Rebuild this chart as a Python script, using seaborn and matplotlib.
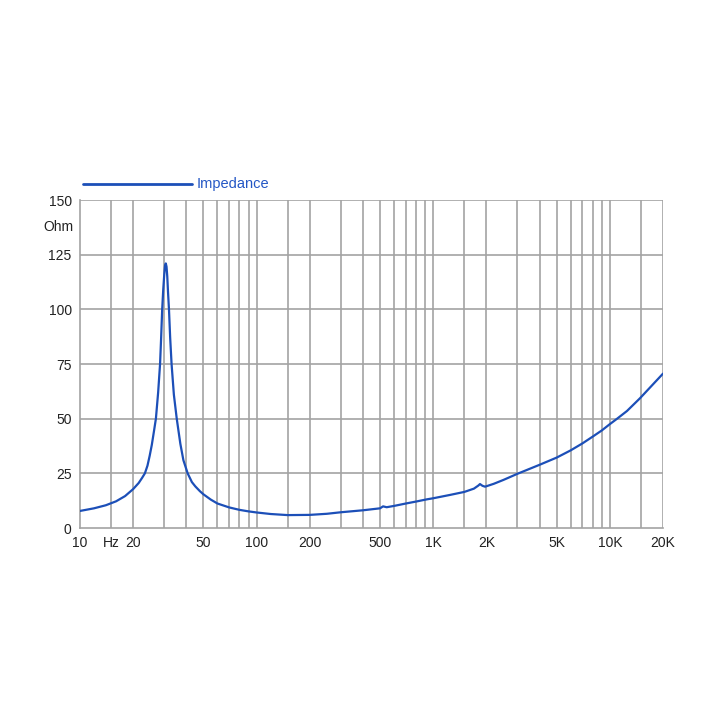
import seaborn as sns
import pandas as pd
import numpy as np
import matplotlib.pyplot as plt
from matplotlib.transforms import blended_transform_factory

# impedance curve
freq = [10, 12, 14, 16, 18, 20, 21.5, 22.5, 23.3, 24.1, 24.8, 25.5, 26.2, 26.9,
        27.7, 28.4, 28.8, 29.2, 29.6, 30.0, 30.3, 30.6, 30.9, 31.2, 31.5, 31.9,
        32.4, 33.0, 34.0, 35.3, 37.0, 38.5, 40.7, 43, 45, 47.8, 50, 55, 60, 70,
        80, 90, 100, 120, 150, 200, 250, 300, 400, 500, 520, 545, 600, 700, 800,
        920, 1000, 1240, 1500, 1700, 1800, 1840, 1900, 1965, 2000, 2200, 2500,
        3000, 3500, 4000, 5000, 6000, 7000, 8000, 9000, 10000, 11000, 12500,
        14800, 17000, 20000]
ohm = [7.8, 9.0, 10.4, 12.2, 14.6, 17.8, 20.6, 23.0, 25.0, 28.5, 33.0, 38.0,
       44.0, 50.0, 62.0, 75.0, 87.0, 100.0, 109.0, 116.0, 120.0, 121.0, 119.5,
       115.0, 108.0, 100.0, 87.0, 75.0, 61.0, 50.0, 38.5, 31.0, 25.0, 21.0, 19.0,
       16.8, 15.4, 13.0, 11.2, 9.4, 8.3, 7.6, 7.1, 6.4, 5.9, 6.0, 6.5, 7.2, 8.1,
       9.0, 9.9, 9.5, 10.1, 11.2, 12.1, 13.1, 13.6, 15.1, 16.5, 18.0, 19.4,
       20.1, 19.3, 18.9, 19.1, 20.2, 22.0, 24.8, 27.0, 28.9, 32.2, 35.5, 38.7,
       41.8, 44.6, 47.5, 50.0, 53.5, 59.3, 64.5, 70.6]

grid_x = [15, 20, 30, 40, 50, 60, 70, 80, 90, 100, 150, 200, 300, 400, 500, 600,
          700, 800, 900, 1000, 1500, 2000, 3000, 4000, 5000, 6000, 7000, 8000,
          9000, 10000, 15000, 20000]
xlabel_pos = [10, 15, 20, 50, 100, 200, 500, 1000, 2000, 5000, 10000, 20000]
xlabel_txt = ["10", "Hz", "20", "50", "100", "200", "500", "1K", "2K", "5K", "10K", "20K"]
yticks = [0, 25, 50, 75, 100, 125, 150]

df = pd.DataFrame({"Hz": freq, "Ohm": ohm})

sns.set_style("white")
plt.rcParams['font.family'] = ['Liberation Sans', 'DejaVu Sans']

fig = plt.figure(figsize=(7.24, 7.24), dpi=100)
ax = fig.add_axes([80 / 724, 1 - 528 / 724, 583 / 724, 328 / 724])

gray = "#a3a3a3"
for g in grid_x:
    ax.axvline(g, color=gray, lw=1.2, zorder=0)
for t in yticks[1:]:
    ax.axhline(t, color=gray, lw=1.2, zorder=0)

sns.lineplot(data=df, x="Hz", y="Ohm", ax=ax, color="#1c4fb8", lw=1.6, zorder=3)

ax.set_xscale("log")
ax.set_xlim(10, 20000)
ax.set_ylim(0, 150)
ax.set_xticks(xlabel_pos)
ax.set_xticklabels(xlabel_txt)
ax.set_xticks(grid_x, minor=True)
ax.xaxis.set_minor_formatter(plt.NullFormatter())
ax.set_yticks(yticks)
ax.set_yticklabels([str(t) for t in yticks])
ax.tick_params(axis="both", which="both", length=4, color=gray, labelsize=10,
               labelcolor="#222222", pad=2)
ax.set_xlabel("")
ax.set_ylabel("")
for s in ["top", "right"]:
    ax.spines[s].set_visible(False)
for s in ["left", "bottom"]:
    ax.spines[s].set_color(gray)
    ax.spines[s].set_linewidth(1.2)

tr = blended_transform_factory(ax.transAxes, ax.transData)
ax.text(-0.012, 137.5, "Ohm", transform=tr, ha="right", va="center",
        fontsize=10, color="#222222")

# legend drawn above the plot
fig.add_artist(plt.Line2D([83 / 724, 192 / 724], [1 - 184 / 724, 1 - 184 / 724],
                          color="#1c4fb8", lw=2))
fig.text(197 / 724, 1 - 184 / 724, "Impedance", color="#2457c5", fontsize=10.5,
         ha="left", va="center")

fig.savefig("out.png", dpi=100)
